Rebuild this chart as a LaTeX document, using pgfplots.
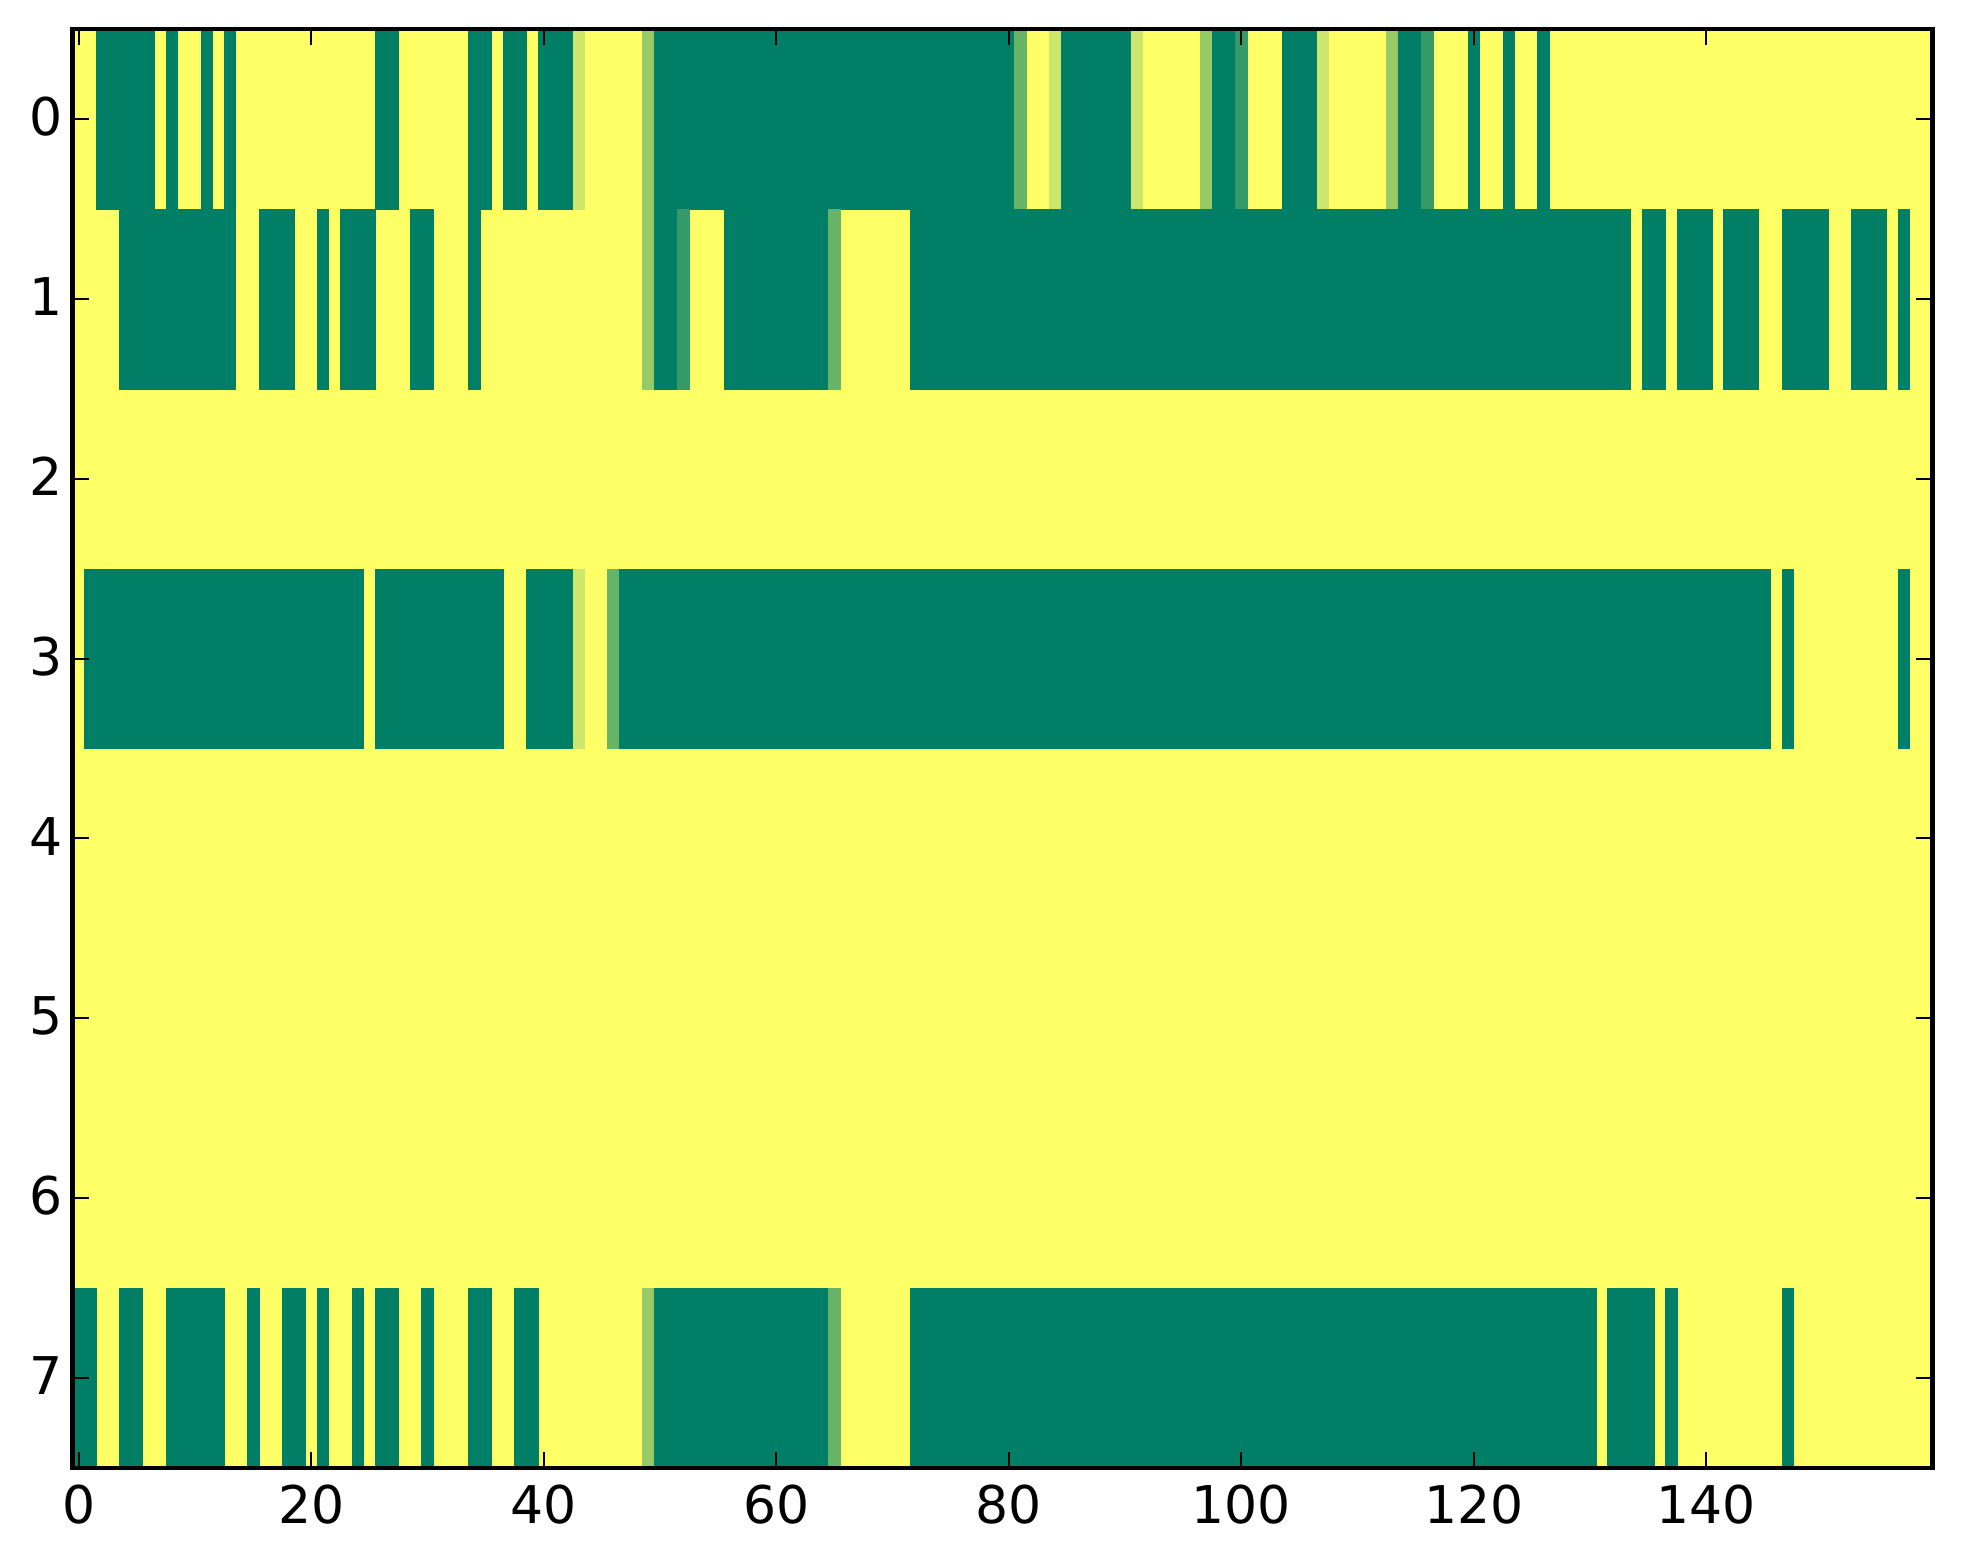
\documentclass[border=0pt]{standalone}
\usepackage{fontspec}
\setmainfont{DejaVu Sans}
\usepackage{pgfplots}
\pgfplotsset{compat=1.18}
\definecolor{yl}{HTML}{FFFF66}
\definecolor{dk}{HTML}{007F66}
\definecolor{lt}{HTML}{CDE76E}
\definecolor{md}{HTML}{96CA66}
\definecolor{ms}{HTML}{68B467}
\definecolor{dm}{HTML}{359A68}
% colour, x from, x to, y from, y to (cell edges in data units)
\newcommand{\cell}[5]{\addplot[fill=#1,draw=#1,line width=0.1pt,forget plot] coordinates {(#2,#4) (#3,#4) (#3,#5) (#2,#5)} -- cycle;}
\newcommand{\ra}[3]{\cell{#1}{#2}{#3}{-0.5}{0.5}}
\newcommand{\rb}[3]{\cell{#1}{#2}{#3}{0.5}{1.5}}
\newcommand{\rd}[3]{\cell{#1}{#2}{#3}{2.5}{3.5}}
\newcommand{\rh}[3]{\cell{#1}{#2}{#3}{6.5}{7.5}}
\begin{document}
\begin{tikzpicture}[x=1pt,y=1pt]
\path[use as bounding box] (0,0) rectangle (981.5,782);
\begin{axis}[
  at={(36.4pt,48pt)}, anchor=south west,
  scale only axis, width=930pt, height=719.5pt,
  xmin=-0.5, xmax=159.5, ymin=-0.5, ymax=7.5,
  y dir=reverse,
  xtick={0,20,...,140}, ytick={0,1,...,7},
  tick align=inside, major tick length=8.2pt,
  every tick/.style={black,line width=1pt},
  axis line style={line width=2.4pt},
  axis on top,
  xticklabel pos=lower, yticklabel pos=left,
  tick label style={font=\fontsize{26}{30}\selectfont},
  xticklabel style={yshift=-4.8pt},
  yticklabel style={xshift=-1.5pt,yshift=1.2pt},
  /pgf/number format/assume math mode=true,
  clip=true,
]
\cell{yl}{-0.5}{159.5}{-0.5}{7.5}
% row 0
\ra{dk}{1.5}{6.5}\ra{dk}{7.5}{8.5}\ra{dk}{10.5}{11.5}\ra{dk}{12.5}{13.5}
\ra{dk}{25.5}{27.5}\ra{dk}{33.5}{35.5}\ra{dk}{36.5}{38.5}\ra{dk}{39.5}{42.5}
\ra{lt}{42.5}{43.5}\ra{md}{48.5}{49.5}\ra{dk}{49.5}{80.5}\ra{ms}{80.5}{81.5}
\ra{lt}{83.5}{84.5}\ra{dk}{84.5}{90.5}\ra{lt}{90.5}{91.5}\ra{md}{96.5}{97.5}
\ra{dk}{97.5}{99.5}\ra{dm}{99.5}{100.5}\ra{dk}{103.5}{106.5}\ra{lt}{106.5}{107.5}
\ra{md}{112.5}{113.5}\ra{dk}{113.5}{115.5}\ra{dm}{115.5}{116.5}
\ra{dk}{119.5}{120.5}\ra{dk}{122.5}{123.5}\ra{dk}{125.5}{126.5}
% row 1
\rb{dk}{3.5}{13.5}\rb{dk}{15.5}{18.5}\rb{dk}{20.5}{21.5}\rb{dk}{22.5}{25.5}
\rb{dk}{28.5}{30.5}\rb{dk}{33.5}{34.5}\rb{md}{48.5}{49.5}\rb{dk}{49.5}{51.5}
\rb{dm}{51.5}{52.5}\rb{dk}{55.5}{64.5}\rb{ms}{64.5}{65.5}\rb{dk}{71.5}{133.5}
\rb{dk}{134.5}{136.5}\rb{dk}{137.5}{140.5}\rb{dk}{141.5}{144.5}
\rb{dk}{146.5}{150.5}\rb{dk}{152.5}{155.5}\rb{dk}{156.5}{157.5}
% row 3
\rd{dk}{0.5}{24.5}\rd{dk}{25.5}{36.5}\rd{dk}{38.5}{42.5}\rd{lt}{42.5}{43.5}
\rd{ms}{45.5}{46.5}\rd{dk}{46.5}{145.5}\rd{dk}{146.5}{147.5}\rd{dk}{156.5}{157.5}
% row 7
\rh{dk}{-0.5}{1.5}\rh{dk}{3.5}{5.5}\rh{dk}{7.5}{12.5}\rh{dk}{14.5}{15.5}
\rh{dk}{17.5}{19.5}\rh{dk}{20.5}{21.5}\rh{dk}{23.5}{24.5}\rh{dk}{25.5}{27.5}
\rh{dk}{29.5}{30.5}\rh{dk}{33.5}{35.5}\rh{dk}{37.5}{39.5}\rh{md}{48.5}{49.5}
\rh{dk}{49.5}{64.5}\rh{ms}{64.5}{65.5}\rh{dk}{71.5}{130.5}\rh{dk}{131.5}{135.5}
\rh{dk}{136.5}{137.5}\rh{dk}{146.5}{147.5}
\end{axis}
\end{tikzpicture}
\end{document}
